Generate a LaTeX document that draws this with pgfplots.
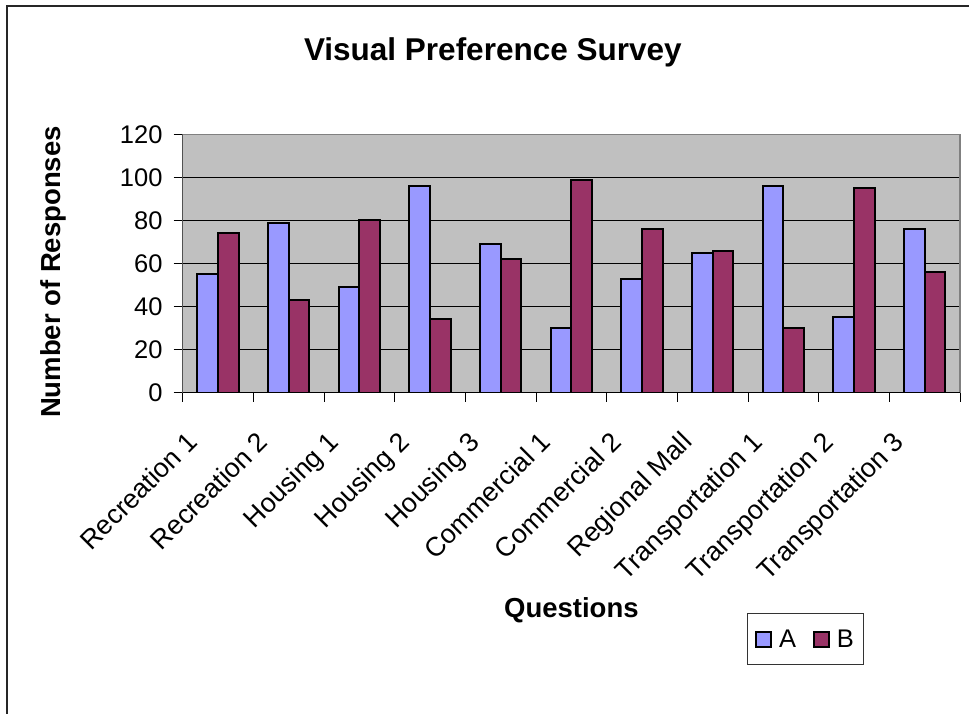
\documentclass[border=0pt]{standalone}
\usepackage{pgfplots}
\pgfplotsset{compat=1.18}
\usepackage{fontspec}
\setmainfont{Liberation Sans}
\definecolor{serA}{HTML}{9999FF}
\definecolor{serB}{HTML}{993366}
\definecolor{plotbg}{HTML}{C0C0C0}
\begin{document}
\begin{tikzpicture}
\path[use as bounding box] (0pt,0pt) rectangle (969pt,-713pt);
\draw[line width=1.5pt, black!85] (7pt,-720pt) -- (7pt,-6pt) -- (980pt,-6pt);
\begin{axis}[
  at={(182.7pt,-392.7pt)}, anchor=south west,
  scale only axis, width=777.3pt, height=258.4pt,
  xmin=-0.5, xmax=10.5, ymin=0, ymax=120,
  ybar=0pt, bar width=20.7pt,
  axis background/.style={fill=plotbg},
  axis line style={draw=gray, line width=1.2pt},
  ytick={0,20,...,120},
  ymajorgrids, grid style={black, line width=0.9pt},
  xtick={0,...,10},
  minor xtick={-0.5,0.5,...,10.5},
  major x tick style={draw=none},
  minor x tick style={black, line width=1pt},
  y tick style={black, line width=1pt},
  tick align=outside,
  major tick length=9pt, minor tick length=9pt,
  xtick pos=lower, ytick pos=left,
  xticklabels={Recreation 1,Recreation 2,Housing 1,Housing 2,Housing 3,Commercial 1,Commercial 2,Regional Mall,Transportation 1,Transportation 2,Transportation 3},
  /pgf/number format/assume math mode=true,
  ticklabel style={font=\fontsize{25.5}{30}\selectfont},
  yticklabel style={inner sep=0pt, xshift=-11pt},
  xticklabel style={inner sep=0pt, font=\fontsize{26.8}{31}\selectfont, xshift=-33pt, yshift=-28pt, rotate=45, anchor=north east},
  title={\textbf{Visual Preference Survey}},
  title style={at={(axis description cs:0.399,1.295)}, anchor=center, font=\fontsize{31.5}{36}\selectfont},
  xlabel={\textbf{Questions}},
  xlabel style={at={(axis description cs:0.5,-0.868)}, anchor=base, font=\fontsize{27.5}{32}\selectfont},
  ylabel={\textbf{Number of Responses}},
  ylabel style={at={(axis description cs:-0.1662,0.467)}, anchor=center, rotate=0, font=\fontsize{27.5}{32}\selectfont},
  legend columns=2,
  legend style={at={(axis description cs:0.7256,-0.8537)}, anchor=north west,
    draw=black!80, line width=1pt, inner xsep=8pt, inner ysep=14pt,
    font=\fontsize{25.5}{30}\selectfont,
    /tikz/every odd column/.append style={column sep=5pt},
    /tikz/every even column/.append style={column sep=15pt}},
  legend image code/.code={\draw[#1, line width=1.8pt] (0pt,-7.5pt) rectangle (15pt,7.5pt);},
]
\addplot[fill=serA, draw=black, line width=2pt] coordinates {
(0,55) (1,79) (2,49) (3,96) (4,69) (5,30) (6,53) (7,65) (8,96) (9,35) (10,76)};
\addplot[fill=serB, draw=black, line width=2pt] coordinates {
(0,74) (1,43) (2,80) (3,34) (4,62) (5,99) (6,76) (7,66) (8,30) (9,95) (10,56)};
\legend{A,B}
\draw[black, line width=1.2pt] (rel axis cs:0,1) -- (rel axis cs:0,0) -- (rel axis cs:1,0);
\end{axis}
\end{tikzpicture}
\end{document}
